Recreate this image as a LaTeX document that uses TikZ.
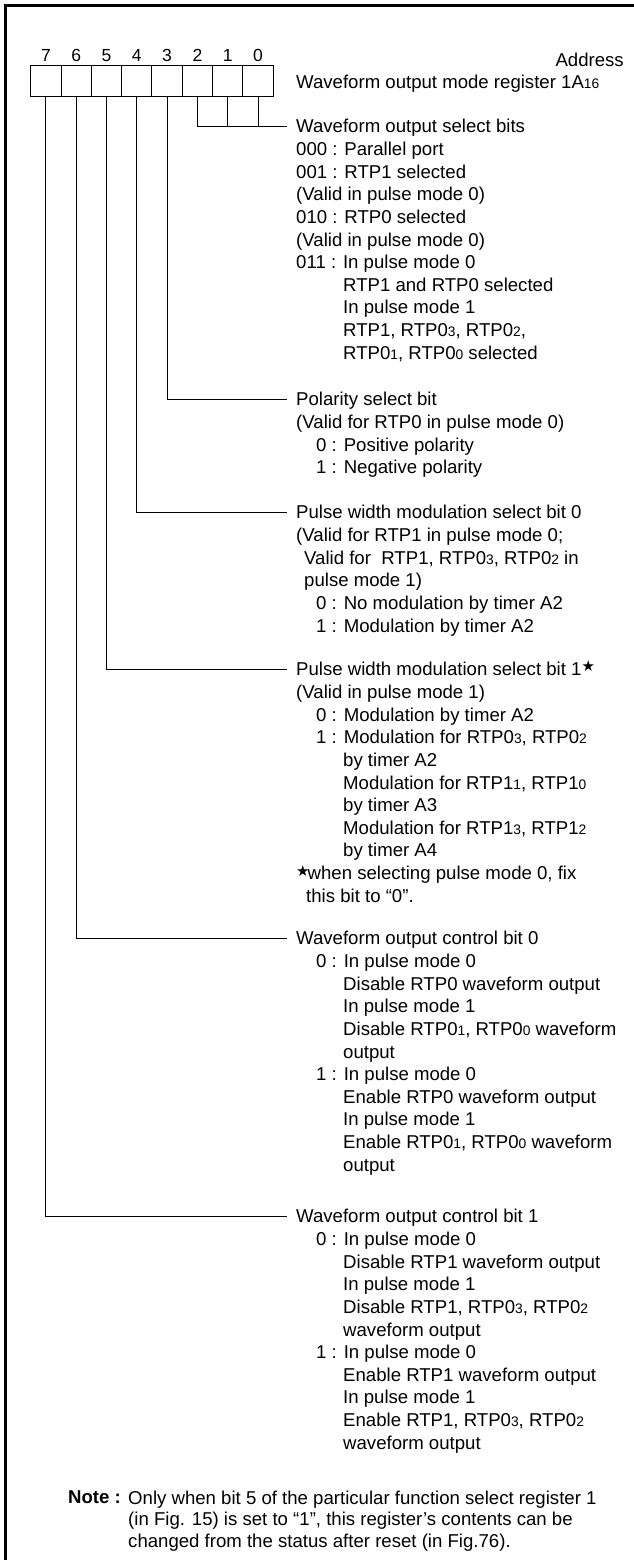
\documentclass[tikz,border=0pt]{standalone}
\usepackage{fontspec}
\setmainfont{Liberation Sans}
\newfontfamily\symfont{DejaVu Sans}
\usetikzlibrary{positioning}
\newcommand{\sm}[1]{{\fontsize{13.8}{13.8}\selectfont #1}}
\newcommand{\bstar}{{\symfont\fontsize{15}{15}\selectfont ★}}
\newcommand{\inda}{\hspace*{8pt}}
\newcommand{\indb}{\hspace*{20pt}}
\newcommand{\indc}{\hspace*{47pt}}

\begin{document}
\begin{tikzpicture}[x=1pt,y=-1pt,
  bitbox/.style={draw,line width=1pt,minimum width=30.3pt,minimum height=31pt,inner sep=0pt},
  bitnum/.style={font=\fontsize{17.5}{20}\selectfont,inner sep=0pt,anchor=base},
  head/.style={anchor=west,inner sep=0pt,text height=13.3pt,text depth=0pt,font=\fontsize{18.6}{22.6}\selectfont},
  body/.style={anchor=north west,inner sep=0pt,align=left,font=\fontsize{18.6}{22.6}\selectfont},
  note/.style={anchor=north west,inner sep=0pt,align=left,font=\fontsize{18.6}{21.7}\selectfont},
  wire/.style={line width=0.9pt},
  conn/.style={wire,shorten >=9pt}
]
  \useasboundingbox (0,0) rectangle (634,1560);
  \draw[line width=2.5pt] (5.5,1560) -- (5.5,5.5) -- (634,5.5);

  % register bits
  \foreach \i in {0,...,7} {
    \node[bitbox] (b\i) at ({258-30.3*\i},81.5) {};
    \node[bitnum] (n\i) at ({258-30.3*\i},61.3) {\i};
  }
  \node[head,anchor=east] (addr) at (624,60) {Address};
  \node[head] (reg) at (296,82) {Waveform output mode register 1A\sm{16}};

  % bits 2-0
  \node[head] (sel) at (296,126) {Waveform output select bits};
  \node[body] (selb) at ([yshift=-6.8pt]sel.south west) {\strut 000 : Parallel port\\
    001 : RTP1 selected\\
    (Valid in pulse mode 0)\\
    010 : RTP0 selected\\
    (Valid in pulse mode 0)\\
    011 : In pulse mode 0\\
    \indc RTP1 and RTP0 selected\\
    \indc In pulse mode 1\\
    \indc RTP1, RTP0\sm{3}, RTP0\sm{2},\\
    \indc RTP0\sm{1}, RTP0\sm{0} selected};

  % bit 3
  \node[head] (pol) at (296,399) {Polarity select bit};
  \node[body] (polb) at ([yshift=-6.8pt]pol.south west) {\strut (Valid for RTP0 in pulse mode 0)\\
    \indb 0 : Positive polarity\\
    \indb 1 : Negative polarity};

  % bit 4
  \node[head] (pwa) at (296,512) {Pulse width modulation select bit 0};
  \node[body] (pwab) at ([yshift=-6.8pt]pwa.south west) {\strut (Valid for RTP1 in pulse mode 0;\\
    \inda Valid for\ \ RTP1, RTP0\sm{3}, RTP0\sm{2} in\\
    \inda pulse mode 1)\\
    \indb 0 : No modulation by timer A2\\
    \indb 1 : Modulation by timer A2};

  % bit 5
  \node[head] (pwb) at (296,669) {Pulse width modulation select bit 1\raisebox{4pt}{\bstar}};
  \node[body] (pwbb) at ([yshift=-6.8pt]pwb.south west) {\strut (Valid in pulse mode 1)\\
    \indb 0 : Modulation by timer A2\\
    \indb 1 : Modulation for RTP0\sm{3}, RTP0\sm{2}\\
    \indc by timer A2\\
    \indc Modulation for RTP1\sm{1}, RTP1\sm{0}\\
    \indc by timer A3\\
    \indc Modulation for RTP1\sm{3}, RTP1\sm{2}\\
    \indc by timer A4\\
    \hspace*{0pt}\raisebox{3pt}{\bstar}\hspace{-2pt}when selecting pulse mode 0, fix\\
    \hspace*{10pt}this bit to “0”.};

  % bit 6
  \node[head] (wca) at (296,938) {Waveform output control bit 0};
  \node[body] (wcab) at ([yshift=-6.8pt]wca.south west) {\strut\indb 0 : In pulse mode 0\\
    \indc Disable RTP0 waveform output\\
    \indc In pulse mode 1\\
    \indc Disable RTP0\sm{1}, RTP0\sm{0} waveform\\
    \indc output\\
    \indb 1 : In pulse mode 0\\
    \indc Enable RTP0 waveform output\\
    \indc In pulse mode 1\\
    \indc Enable RTP0\sm{1}, RTP0\sm{0} waveform\\
    \indc output};

  % bit 7
  \node[head] (wcb) at (296,1216) {Waveform output control bit 1};
  \node[body] (wcbb) at ([yshift=-6.8pt]wcb.south west) {\strut\indb 0 : In pulse mode 0\\
    \indc Disable RTP1 waveform output\\
    \indc In pulse mode 1\\
    \indc Disable RTP1, RTP0\sm{3}, RTP0\sm{2}\\
    \indc waveform output\\
    \indb 1 : In pulse mode 0\\
    \indc Enable RTP1 waveform output\\
    \indc In pulse mode 1\\
    \indc Enable RTP1, RTP0\sm{3}, RTP0\sm{2}\\
    \indc waveform output};

  % connectors
  \draw[conn] (b2.south) |- (sel.west);
  \draw[wire] (b1.south) -- (b1.south |- sel.west);
  \draw[wire] (b0.south) -- (b0.south |- sel.west);
  \draw[conn] (b3.south) |- (pol.west);
  \draw[conn] (b4.south) |- (pwa.west);
  \draw[conn] (b5.south) |- (pwb.west);
  \draw[conn] (b6.south) |- (wca.west);
  \draw[conn] (b7.south) |- (wcb.west);

  % note
  \node[head] (notel) at (68,1497) {\textbf{Note :}};
  \node[note] (notet) at ([xshift=60pt,yshift=15.2pt]notel.south west) {\strut Only when bit 5 of the particular function select register 1\\
    (in Fig. 15) is set to “1”, this register’s contents can be\\
    changed from the status after reset (in Fig.76).};
\end{tikzpicture}
\end{document}
